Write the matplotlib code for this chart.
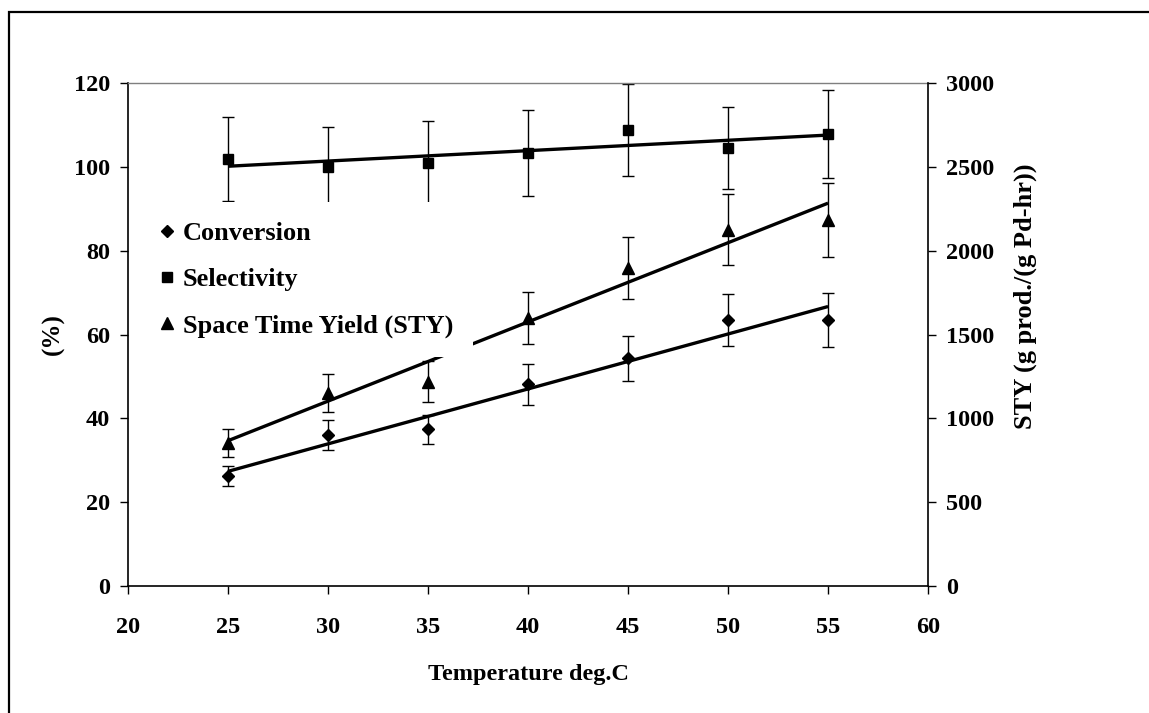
import numpy as np
import matplotlib
matplotlib.use('Agg')
import matplotlib.pyplot as plt
from matplotlib.lines import Line2D
from matplotlib.patches import Rectangle

plt.rcParams['font.family'] = ['Liberation Serif', 'DejaVu Serif']
plt.rcParams['font.weight'] = 'bold'

# temperature series, deg.C
temps = [25, 30, 35, 40, 45, 50, 55]

# conversion and selectivity, %
conversion = [26.3, 36.0, 37.4, 48.1, 54.3, 63.5, 63.5]
conversion_err = [2.4, 3.6, 3.5, 4.8, 5.3, 6.2, 6.5]
selectivity = [101.9, 99.9, 100.9, 103.3, 108.7, 104.5, 107.8]
selectivity_err = [10.0, 9.6, 10.0, 10.3, 11.0, 9.8, 10.5]

# space time yield, g prod./(g Pd-hr)
sty = [855, 1150, 1219, 1597, 1896, 2124, 2184]
sty_err = [84, 115, 120, 156, 185, 211, 219]

x = np.array(temps, dtype=float)

fig = plt.figure(figsize=(11.49, 7.13), dpi=100)
ax = fig.add_axes([0.1114, 0.1781, 0.6963, 0.7055])
ax2 = ax.twinx()

eb_kw = dict(ecolor='black', elinewidth=1.0, capsize=4.5, capthick=1.0,
             linestyle='none', color='black')

ax.errorbar(x, conversion, yerr=conversion_err, marker='D', markersize=6, **eb_kw)
ax.errorbar(x, selectivity, yerr=selectivity_err, marker='s', markersize=7, **eb_kw)
ax2.errorbar(x, sty, yerr=sty_err, marker='^', markersize=8, **eb_kw)

# linear trend lines
for axis, vals in ((ax, conversion), (ax, selectivity), (ax2, sty)):
    k, b = np.polyfit(x, vals, 1)
    axis.plot(x, k * x + b, color='black', linewidth=2.4, solid_capstyle='butt')

ax.set_xlim(20, 60)
ax.set_ylim(0, 120)
ax2.set_ylim(0, 3000)
ax.set_xticks(np.arange(20, 61, 5))
ax.set_yticks(np.arange(0, 121, 20))
ax2.set_yticks(np.arange(0, 3001, 500))

ax.tick_params(axis='both', labelsize=17.5, length=6, width=1, direction='out')
ax.tick_params(axis='x', pad=16)
ax.tick_params(axis='y', pad=7)
ax2.tick_params(axis='y', labelsize=17.5, length=6, width=1, direction='out', pad=7)

for s in ('left', 'bottom'):
    ax.spines[s].set_linewidth(1.2)
ax.spines['right'].set_visible(False)
ax.spines['top'].set_color('#7f7f7f')
ax.spines['top'].set_linewidth(1.0)
for s in ('top', 'left', 'bottom'):
    ax2.spines[s].set_visible(False)
ax2.spines['right'].set_linewidth(1.2)

ax.set_xlabel('Temperature deg.C', fontsize=17.5, fontweight='bold', labelpad=19)
ax.set_ylabel('(%)', fontsize=18, fontweight='bold')
ax.yaxis.label.set_va('center')
ax.yaxis.set_label_coords(-0.093, 0.5)
ax2.set_ylabel('STY (g prod./(g Pd-hr))', fontsize=19, fontweight='bold')
ax2.yaxis.label.set_va('center')
ax2.yaxis.set_label_coords(1.121, 0.577)

handles = [
    Line2D([], [], marker='D', markersize=6, color='black', linestyle='none'),
    Line2D([], [], marker='s', markersize=7, color='black', linestyle='none'),
    Line2D([], [], marker='^', markersize=8, color='black', linestyle='none'),
]
labels = ['Conversion', 'Selectivity', 'Space Time Yield (STY)']
leg = ax2.legend(handles, labels, loc='upper left', bbox_to_anchor=(0.016, 0.763),
                 fontsize=19, frameon=True, facecolor='white', edgecolor='none',
                 framealpha=1.0, fancybox=False, handlelength=0.5,
                 handletextpad=0.35, labelspacing=0.85, borderpad=0.75,
                 borderaxespad=0.0)
for t in leg.get_texts():
    t.set_fontweight('bold')

# outer frame, cut off at the right and bottom edges
fig.patches.append(Rectangle((9 / 1149, -0.2), 1.5, 1.2 - 12 / 713,
                             transform=fig.transFigure, fill=False,
                             edgecolor='black', linewidth=1.6, clip_on=False))

fig.savefig('out.png', dpi=100)
